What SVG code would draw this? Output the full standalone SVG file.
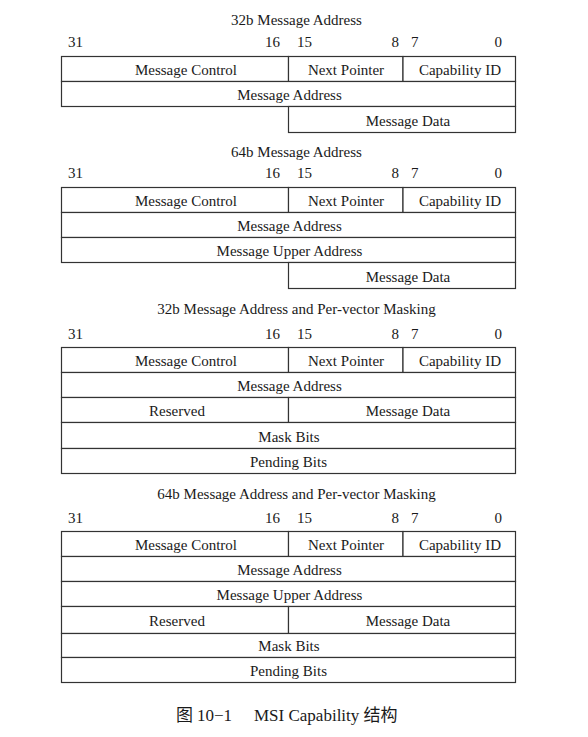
<svg xmlns="http://www.w3.org/2000/svg" width="588" height="737" viewBox="0 0 588 737" font-family="Liberation Serif, DejaVu Serif, serif">
<style>
text{font-size:15px;fill:#1a1a1a}
.c{text-anchor:middle}
.e{text-anchor:end}
.cell rect{fill:#fff;stroke:#333;stroke-width:1.2}
.cap{font-size:17px}
</style>
<rect width="588" height="737" fill="#fff"/>
<g id="connectors"></g>

<!-- Table 1 -->
<g id="t1">
<text class="c" x="296.5" y="25">32b Message Address</text>
<g id="t1-bits"><text x="68" y="47">31</text><text class="e" x="280" y="47">16</text><text x="297" y="47">15</text><text class="e" x="399" y="47">8</text><text x="411" y="47">7</text><text class="e" x="502" y="47">0</text></g>
<g id="t1-ctrl" class="cell"><rect x="61.5" y="56.5" width="227" height="25"/><text class="c" x="186" y="75">Message Control</text></g>
<g id="t1-next" class="cell"><rect x="288.5" y="56.5" width="114.5" height="25"/><text class="c" x="346" y="75">Next Pointer</text></g>
<g id="t1-capid" class="cell"><rect x="403" y="56.5" width="112.5" height="25"/><text class="c" x="460" y="75">Capability ID</text></g>
<g id="t1-addr" class="cell"><rect x="61.5" y="81.5" width="454" height="25"/><text class="c" x="289.5" y="100">Message Address</text></g>
<g id="t1-data" class="cell"><rect x="288.5" y="106.5" width="227" height="26"/><text class="c" x="408" y="125.5">Message Data</text></g>
</g>

<!-- Table 2 -->
<g id="t2">
<text class="c" x="296.5" y="157">64b Message Address</text>
<g id="t2-bits"><text x="68" y="178">31</text><text class="e" x="280" y="178">16</text><text x="297" y="178">15</text><text class="e" x="399" y="178">8</text><text x="411" y="178">7</text><text class="e" x="502" y="178">0</text></g>
<g id="t2-ctrl" class="cell"><rect x="61.5" y="187.5" width="227" height="25"/><text class="c" x="186" y="206">Message Control</text></g>
<g id="t2-next" class="cell"><rect x="288.5" y="187.5" width="114.5" height="25"/><text class="c" x="346" y="206">Next Pointer</text></g>
<g id="t2-capid" class="cell"><rect x="403" y="187.5" width="112.5" height="25"/><text class="c" x="460" y="206">Capability ID</text></g>
<g id="t2-addr" class="cell"><rect x="61.5" y="212.5" width="454" height="25"/><text class="c" x="289.5" y="231">Message Address</text></g>
<g id="t2-upper" class="cell"><rect x="61.5" y="237.5" width="454" height="25"/><text class="c" x="289.5" y="256">Message Upper Address</text></g>
<g id="t2-data" class="cell"><rect x="288.5" y="262.5" width="227" height="26"/><text class="c" x="408" y="281.5">Message Data</text></g>
</g>

<!-- Table 3 -->
<g id="t3">
<text class="c" x="296.5" y="314">32b Message Address and Per-vector Masking</text>
<g id="t3-bits"><text x="68" y="339">31</text><text class="e" x="280" y="339">16</text><text x="297" y="339">15</text><text class="e" x="399" y="339">8</text><text x="411" y="339">7</text><text class="e" x="502" y="339">0</text></g>
<g id="t3-ctrl" class="cell"><rect x="61.5" y="347.5" width="227" height="25"/><text class="c" x="186" y="366">Message Control</text></g>
<g id="t3-next" class="cell"><rect x="288.5" y="347.5" width="114.5" height="25"/><text class="c" x="346" y="366">Next Pointer</text></g>
<g id="t3-capid" class="cell"><rect x="403" y="347.5" width="112.5" height="25"/><text class="c" x="460" y="366">Capability ID</text></g>
<g id="t3-addr" class="cell"><rect x="61.5" y="372.5" width="454" height="25"/><text class="c" x="289.5" y="391">Message Address</text></g>
<g id="t3-rsvd" class="cell"><rect x="61.5" y="397.5" width="227" height="25"/><text class="c" x="177" y="416">Reserved</text></g>
<g id="t3-data" class="cell"><rect x="288.5" y="397.5" width="227" height="25"/><text class="c" x="408" y="416">Message Data</text></g>
<g id="t3-mask" class="cell"><rect x="61.5" y="422.5" width="454" height="26"/><text class="c" x="289" y="441.5">Mask Bits</text></g>
<g id="t3-pend" class="cell"><rect x="61.5" y="448.5" width="454" height="25"/><text class="c" x="288.5" y="467">Pending Bits</text></g>
</g>

<!-- Table 4 -->
<g id="t4">
<text class="c" x="296.5" y="498.5">64b Message Address and Per-vector Masking</text>
<g id="t4-bits"><text x="68" y="523">31</text><text class="e" x="280" y="523">16</text><text x="297" y="523">15</text><text class="e" x="399" y="523">8</text><text x="411" y="523">7</text><text class="e" x="502" y="523">0</text></g>
<g id="t4-ctrl" class="cell"><rect x="61.5" y="531.5" width="227" height="25"/><text class="c" x="186" y="550">Message Control</text></g>
<g id="t4-next" class="cell"><rect x="288.5" y="531.5" width="114.5" height="25"/><text class="c" x="346" y="550">Next Pointer</text></g>
<g id="t4-capid" class="cell"><rect x="403" y="531.5" width="112.5" height="25"/><text class="c" x="460" y="550">Capability ID</text></g>
<g id="t4-addr" class="cell"><rect x="61.5" y="556.5" width="454" height="25"/><text class="c" x="289.5" y="575">Message Address</text></g>
<g id="t4-upper" class="cell"><rect x="61.5" y="581.5" width="454" height="25"/><text class="c" x="289.5" y="600">Message Upper Address</text></g>
<g id="t4-rsvd" class="cell"><rect x="61.5" y="606.5" width="227" height="27"/><text class="c" x="177" y="626">Reserved</text></g>
<g id="t4-data" class="cell"><rect x="288.5" y="606.5" width="227" height="27"/><text class="c" x="408" y="626">Message Data</text></g>
<g id="t4-mask" class="cell"><rect x="61.5" y="633.5" width="454" height="24"/><text class="c" x="289" y="651">Mask Bits</text></g>
<g id="t4-pend" class="cell"><rect x="61.5" y="657.5" width="454" height="25"/><text class="c" x="288.5" y="675.5">Pending Bits</text></g>
</g>

<g id="caption" font-family="Liberation Serif, Noto Sans CJK SC, serif">
<text class="cap" x="176" y="721">图</text>
<text class="cap" x="197" y="721">10−1</text>
<text class="cap" x="254" y="721">MSI Capability 结构</text>
</g>
</svg>
